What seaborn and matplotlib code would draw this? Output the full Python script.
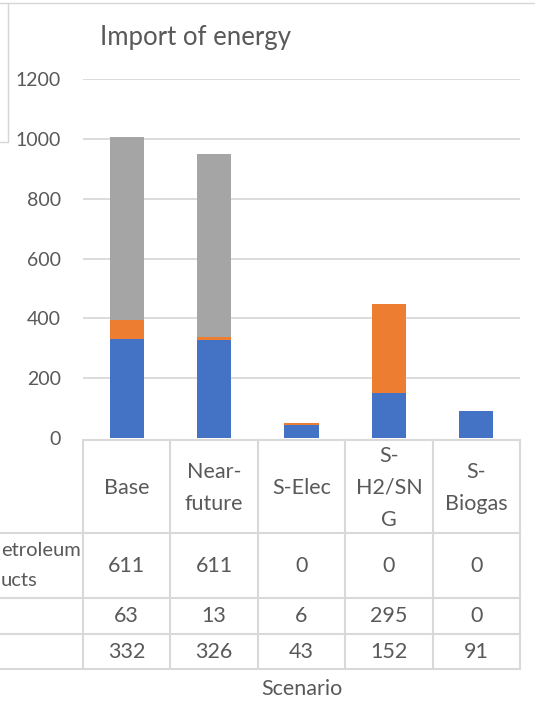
import matplotlib
matplotlib.use("Agg")
import matplotlib.pyplot as plt
from matplotlib.lines import Line2D
from matplotlib.transforms import blended_transform_factory
import numpy as np
import pandas as pd
import seaborn as sns

# Data
scenarios = ["Base", "Near-future", "S-Elec", "S-H2/SNG", "S-Biogas"]
header_labels = ["Base", "Near-\nfuture", "S-Elec", "S-\nH2/SN\nG", "S-\nBiogas"]
petroleum = [611, 611, 0, 0, 0]
orange_series = [63, 13, 6, 295, 0]
blue_series = [332, 326, 43, 152, 91]
y_ticks = [0, 200, 400, 600, 800, 1000, 1200]

BLUE = "#4472C4"
ORANGE = "#ED7D31"
GRAY = "#A5A5A5"
TEXT = "#595959"
GRID = "#D9D9D9"

sns.set_theme(style="white")
plt.rcParams["font.family"] = ["Lato", "DejaVu Sans"]

W, H = 535, 708
fig = plt.figure(figsize=(W / 100, H / 100), dpi=100)
fig.patch.set_facecolor("white")


def fx(px):
    return px / W


def fy(py):
    return 1 - py / H


ax = fig.add_axes([fx(83), fy(438), fx(520) - fx(83), fy(79) - fy(438)])

df = pd.DataFrame({
    "Scenario": scenarios,
    "blue": blue_series,
    "orange": orange_series,
    "petroleum": petroleum,
})
df["lvl1"] = df["blue"]
df["lvl2"] = df["blue"] + df["orange"]
df["lvl3"] = df["lvl2"] + df["petroleum"]

# Stacked bars drawn as overlapping cumulative totals
for col, colr in [("lvl3", GRAY), ("lvl2", ORANGE), ("lvl1", BLUE)]:
    sns.barplot(data=df, x="Scenario", y=col, order=scenarios, color=colr,
                width=0.39, saturation=1, linewidth=0, ax=ax, zorder=3)

ax.set_xlim(-0.5, 4.5)
ax.set_ylim(0, 1200)
ax.set_yticks(y_ticks)
ax.set_yticklabels([str(t) for t in y_ticks], fontsize=14, color=TEXT)
ax.tick_params(axis="y", length=0, pad=16)
ax.set_xticks([])
ax.set_xlabel("")
ax.set_ylabel("")
for s in ax.spines.values():
    s.set_visible(False)
for t in y_ticks[1:]:
    ax.axhline(t, color=GRID, lw=1.3, zorder=0)
ax.set_facecolor("none")

fig.text(fx(100), fy(38), "Import of energy", fontsize=18.5, color=TEXT,
         ha="left", va="center")

# Data table underneath the plot
FS = 15.5
tr = blended_transform_factory(ax.transData, fig.transFigure)
edges = np.arange(-0.5, len(scenarios) + 0.5, 1.0)
t_top, r1, r2, r3, t_bot = 440, 533, 598, 634, 669
for e in edges:
    fig.add_artist(Line2D([e, e], [fy(t_top), fy(t_bot)], transform=tr,
                          color=GRID, lw=1.5))
fig.add_artist(Line2D([-0.5, 4.5], [fy(t_top), fy(t_top)], transform=tr,
                      color=GRID, lw=1.5))
for ry in [r1, r2, r3, t_bot]:
    fig.add_artist(Line2D([0, fx(520)], [fy(ry), fy(ry)],
                          transform=fig.transFigure, color=GRID, lw=1.5))

for i, lab in enumerate(header_labels):
    fig.text(i, fy((t_top + r1) / 2 + 1), lab, transform=tr, ha="center",
             va="center", fontsize=FS, color=TEXT, linespacing=1.75,
             multialignment="center")
for i in range(len(scenarios)):
    fig.text(i, fy((r1 + r2) / 2), str(petroleum[i]), transform=tr,
             ha="center", va="center", fontsize=FS, color=TEXT)
    fig.text(i, fy((r2 + r3) / 2), str(orange_series[i]), transform=tr,
             ha="center", va="center", fontsize=FS, color=TEXT)
    fig.text(i, fy((r3 + t_bot) / 2), str(blue_series[i]), transform=tr,
             ha="center", va="center", fontsize=FS, color=TEXT)

# Row label, visible portion at the left edge
fig.text(fx(1), fy(551), "etroleum", ha="left", va="center",
         fontsize=14.5, color=TEXT)
fig.text(fx(1), fy(580), "ucts", ha="left", va="center",
         fontsize=14.5, color=TEXT)

fig.text(2, fy(689), "Scenario", transform=tr, ha="center", va="center",
         fontsize=FS, color=TEXT)

# Frame fragments at top left
fig.add_artist(Line2D([0, 1], [fy(3), fy(3)], transform=fig.transFigure,
                      color="#D6D6D6", lw=1))
fig.add_artist(Line2D([fx(8), fx(8)], [fy(3), fy(142)],
                      transform=fig.transFigure, color="#D6D6D6", lw=1))
fig.add_artist(Line2D([0, fx(8)], [fy(142), fy(142)],
                      transform=fig.transFigure, color="#D6D6D6", lw=1))

fig.savefig("out.png", dpi=100, facecolor="white")
